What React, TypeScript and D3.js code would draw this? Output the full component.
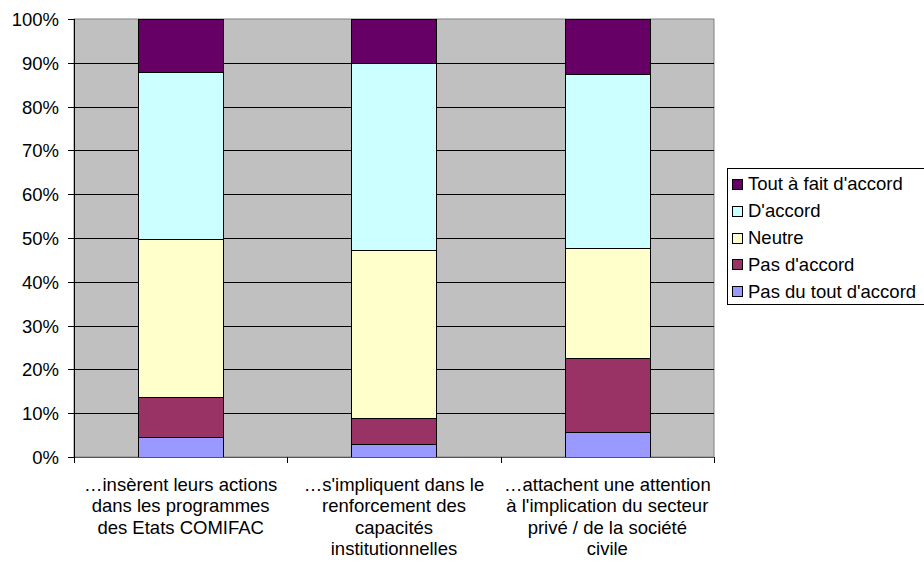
import React, { useRef, useEffect } from 'react';
import * as d3 from 'd3';

const categories = [
  ["…insèrent leurs actions", "dans les programmes", "des Etats COMIFAC"],
  ["…s'impliquent dans le", "renforcement des", "capacités", "institutionnelles"],
  ["…attachent une attention", "à l'implication du secteur", "privé / de la société", "civile"],
];
const seriesNames = ["Pas du tout d'accord", "Pas d'accord", "Neutre", "D'accord", "Tout à fait d'accord"];
const seriesColors = ["#9999FF", "#993366", "#FFFFCC", "#CCFFFF", "#660066"];
const pasDuTout = [4.6, 3.0, 5.7];
const pasDaccord = [9.2, 5.8, 16.8];
const neutre = [36.0, 38.4, 25.2];
const daccord = [38.2, 42.7, 39.7];
const toutAFait = [12.0, 10.1, 12.6];
const yTicks = [0, 10, 20, 30, 40, 50, 60, 70, 80, 90, 100];

const App = () => {
  const svgRef = useRef(null);
  const width = 924;
  const height = 568;

  useEffect(() => {
    const svg = d3.select(svgRef.current);
    svg.selectAll('*').remove();

    const left = 74, right = 714, top = 19, bottom = 457;
    const font = 'Liberation Sans, Arial, sans-serif';
    const fs = '18.5px';

    const keys = seriesNames;
    const table = categories.map((c, i) => ({
      idx: i,
      [keys[0]]: pasDuTout[i],
      [keys[1]]: pasDaccord[i],
      [keys[2]]: neutre[i],
      [keys[3]]: daccord[i],
      [keys[4]]: toutAFait[i],
    }));
    const stacked = d3.stack().keys(keys).offset(d3.stackOffsetExpand)(table as any);

    const x = d3.scaleBand().domain(categories.map((_, i) => String(i))).range([left, right]);
    const y = d3.scaleLinear().domain([0, 1]).range([bottom, top]);

    // plot background
    svg.append('rect')
      .attr('x', left).attr('y', top)
      .attr('width', right - left).attr('height', bottom - top)
      .attr('fill', '#C0C0C0')
      .attr('stroke', '#808080');

    // gridlines
    svg.selectAll('.grid')
      .data(yTicks.slice(1, -1))
      .enter().append('line')
      .attr('x1', left).attr('x2', right)
      .attr('y1', d => Math.round(y(d / 100)) + 0.5)
      .attr('y2', d => Math.round(y(d / 100)) + 0.5)
      .attr('stroke', '#000');

    // bars
    const bw = x.bandwidth() * 0.4;
    stacked.forEach((layer, li) => {
      svg.append('g').selectAll('rect')
        .data(layer)
        .enter().append('rect')
        .attr('x', (d, i) => Math.round(x(String(i)) + (x.bandwidth() - bw) / 2) + 0.5)
        .attr('y', d => Math.round(y(d[1])) + 0.5)
        .attr('width', Math.round(bw))
        .attr('height', d => Math.round(y(d[0])) - Math.round(y(d[1])))
        .attr('fill', seriesColors[li])
        .attr('stroke', '#000');
    });

    // axes
    svg.append('line')
      .attr('x1', left + 0.5).attr('x2', left + 0.5)
      .attr('y1', top).attr('y2', bottom)
      .attr('stroke', '#000');
    svg.append('line')
      .attr('x1', left).attr('x2', right)
      .attr('y1', bottom + 0.5).attr('y2', bottom + 0.5)
      .attr('stroke', '#555');

    // y ticks and labels
    yTicks.forEach(t => {
      const yy = Math.round(y(t / 100)) + 0.5;
      svg.append('line')
        .attr('x1', left - 6).attr('x2', left)
        .attr('y1', yy).attr('y2', yy)
        .attr('stroke', '#000');
      svg.append('text')
        .attr('x', left - 15).attr('y', yy)
        .attr('dy', '0.35em')
        .attr('text-anchor', 'end')
        .style('font-family', font)
        .style('font-size', fs)
        .text(t + '%');
    });

    // x ticks
    const xTickPos = [left, ...categories.map((_, i) => x(String(i)) + x.bandwidth())];
    xTickPos.forEach(p => {
      svg.append('line')
        .attr('x1', Math.round(p) + 0.5).attr('x2', Math.round(p) + 0.5)
        .attr('y1', bottom).attr('y2', bottom + 6)
        .attr('stroke', '#000');
    });

    // x labels
    categories.forEach((lines, i) => {
      const cx = x(String(i)) + x.bandwidth() / 2;
      const txt = svg.append('text')
        .attr('text-anchor', 'middle')
        .style('font-family', font)
        .style('font-size', fs);
      lines.forEach((l, j) => {
        txt.append('tspan')
          .attr('x', cx)
          .attr('y', 491 + j * 21.3)
          .text(l);
      });
    });

    // legend
    svg.append('rect')
      .attr('x', 727.5).attr('y', 168.5)
      .attr('width', 210).attr('height', 136)
      .attr('fill', '#fff')
      .attr('stroke', '#000');
    const order = [4, 3, 2, 1, 0];
    order.forEach((si, k) => {
      const ly = 184 + k * 26.8;
      svg.append('rect')
        .attr('x', 732.5).attr('y', Math.round(ly) - 4.5)
        .attr('width', 10).attr('height', 10)
        .attr('fill', seriesColors[si])
        .attr('stroke', '#000');
      svg.append('text')
        .attr('x', 748).attr('y', ly)
        .attr('dy', '0.35em')
        .style('font-family', font)
        .style('font-size', fs)
        .text(seriesNames[si]);
    });
  }, []);

  return (
    <svg ref={svgRef} width={width} height={height}
      style={{ position: 'absolute', left: 0, top: 0, background: '#fff' }} />
  );
};

export default App;
